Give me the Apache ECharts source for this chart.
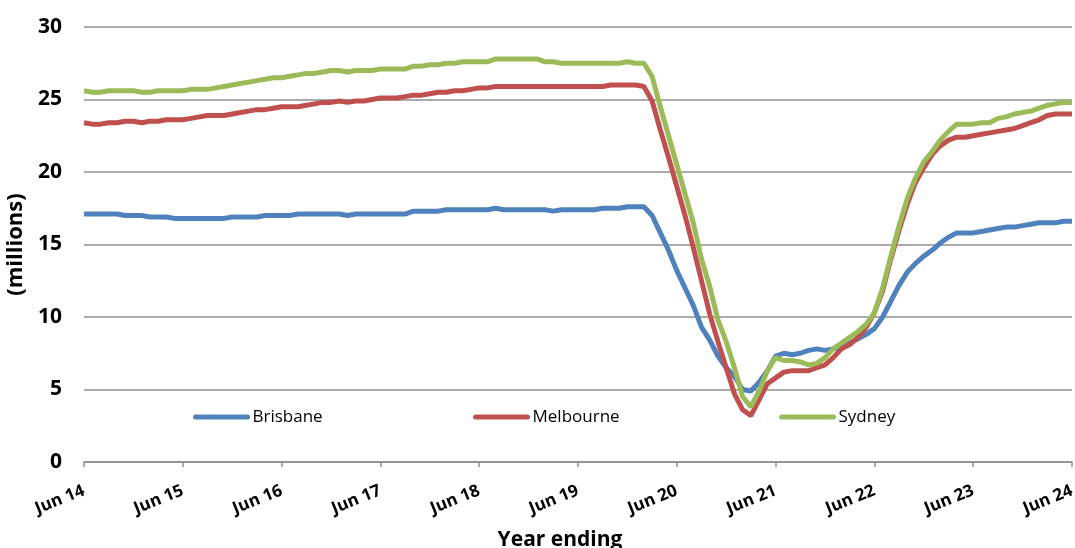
<!DOCTYPE html>
<html>
<head>
<meta charset="utf-8">
<script src="https://cdn.jsdelivr.net/npm/echarts@6/dist/echarts.min.js"></script>
<style>
html,body{margin:0;padding:0;background:#fff;}
#chart{width:1075px;height:548px;}
</style>
</head>
<body>
<div id="chart"></div>
<script>
// ---- data (monthly, year ending Jun 2014 .. Jun 2024) ----
var monthNames = ['Jun','Jul','Aug','Sep','Oct','Nov','Dec','Jan','Feb','Mar','Apr','May'];
var tickLabels = ['Jun 14','Jun 15','Jun 16','Jun 17','Jun 18','Jun 19','Jun 20','Jun 21','Jun 22','Jun 23','Jun 24'];
var seriesNames = ['Brisbane','Melbourne','Sydney'];

var brisbane = [
  17.1,17.1,17.1,17.1,17.1,17.0,17.0,17.0,16.9,16.9,16.9,16.8,
  16.8,16.8,16.8,16.8,16.8,16.8,16.9,16.9,16.9,16.9,17.0,17.0,
  17.0,17.0,17.1,17.1,17.1,17.1,17.1,17.1,17.0,17.1,17.1,17.1,
  17.1,17.1,17.1,17.1,17.3,17.3,17.3,17.3,17.4,17.4,17.4,17.4,
  17.4,17.4,17.5,17.4,17.4,17.4,17.4,17.4,17.4,17.3,17.4,17.4,
  17.4,17.4,17.4,17.5,17.5,17.5,17.6,17.6,17.6,17.0,15.8,14.6,
  13.2,12.0,10.8,9.3,8.4,7.3,6.5,5.9,5.0,4.9,5.5,6.3,
  7.3,7.5,7.4,7.5,7.7,7.8,7.7,7.8,7.9,8.2,8.5,8.8,
  9.2,10.0,11.1,12.2,13.1,13.7,14.2,14.6,15.1,15.5,15.8,15.8,
  15.8,15.9,16.0,16.1,16.2,16.2,16.3,16.4,16.5,16.5,16.5,16.6,
  16.6
];
var melbourne = [
  23.4,23.3,23.3,23.4,23.4,23.5,23.5,23.4,23.5,23.5,23.6,23.6,
  23.6,23.7,23.8,23.9,23.9,23.9,24.0,24.1,24.2,24.3,24.3,24.4,
  24.5,24.5,24.5,24.6,24.7,24.8,24.8,24.9,24.8,24.9,24.9,25.0,
  25.1,25.1,25.1,25.2,25.3,25.3,25.4,25.5,25.5,25.6,25.6,25.7,
  25.8,25.8,25.9,25.9,25.9,25.9,25.9,25.9,25.9,25.9,25.9,25.9,
  25.9,25.9,25.9,25.9,26.0,26.0,26.0,26.0,25.9,24.9,22.9,21.0,
  19.0,17.0,14.8,12.5,10.2,8.3,6.5,4.7,3.6,3.2,4.3,5.4,
  5.8,6.2,6.3,6.3,6.3,6.5,6.7,7.2,7.8,8.1,8.6,9.3,
  10.3,11.8,14.0,16.0,17.8,19.3,20.3,21.2,21.8,22.2,22.4,22.4,
  22.5,22.6,22.7,22.8,22.9,23.0,23.2,23.4,23.6,23.9,24.0,24.0,
  24.0
];
var sydney = [
  25.6,25.5,25.5,25.6,25.6,25.6,25.6,25.5,25.5,25.6,25.6,25.6,
  25.6,25.7,25.7,25.7,25.8,25.9,26.0,26.1,26.2,26.3,26.4,26.5,
  26.5,26.6,26.7,26.8,26.8,26.9,27.0,27.0,26.9,27.0,27.0,27.0,
  27.1,27.1,27.1,27.1,27.3,27.3,27.4,27.4,27.5,27.5,27.6,27.6,
  27.6,27.6,27.8,27.8,27.8,27.8,27.8,27.8,27.6,27.6,27.5,27.5,
  27.5,27.5,27.5,27.5,27.5,27.5,27.6,27.5,27.5,26.6,24.5,22.5,
  20.5,18.5,16.5,14.0,12.1,9.8,8.3,6.5,4.5,3.8,4.9,6.3,
  7.2,7.0,7.0,6.9,6.7,6.8,7.2,7.8,8.2,8.6,9.0,9.5,
  10.3,12.0,14.2,16.3,18.2,19.6,20.7,21.4,22.2,22.8,23.3,23.3,
  23.3,23.4,23.4,23.7,23.8,24.0,24.1,24.2,24.4,24.6,24.7,24.8,
  24.8
];
var colors = ['#4F81BD','#C0504D','#9BBB59'];

// category labels: one per month, tick labels every 12th month
var categories = [];
for (var y = 0; y < tickLabels.length - 1; y++) {
  for (var m = 0; m < 12; m++) {
    categories.push(m === 0 ? tickLabels[y] : monthNames[m] + ' ' + tickLabels[y].slice(4));
  }
}
categories.push(tickLabels[tickLabels.length - 1]);

var chart = echarts.init(document.getElementById('chart'), null, {renderer: 'canvas'});
var fontFam = '"Open Sans", sans-serif';
var seriesData = [brisbane, melbourne, sydney];
var legendLefts = [193, 473, 779];

var option = {
  animation: false,
  backgroundColor: '#fff',
  color: colors,
  textStyle: {fontFamily: fontFam},
  title: {
    text: 'Year ending',
    left: 555,
    textAlign: 'center',
    top: 525,
    textStyle: {fontSize: 21, fontWeight: 'bold', color: '#000', fontFamily: fontFam}
  },
  grid: {left: 84, right: 3, top: 27, bottom: 86, containLabel: false, outerBoundsMode: 'none'},
  legend: seriesNames.map(function (n, k) {
    return {
      data: [n],
      left: legendLefts[k],
      top: 406,
      padding: 0,
      itemWidth: 52,
      itemHeight: 14,
      itemGap: 5,
      lineStyle: {width: 5, cap: 'round'},
      itemStyle: {opacity: 0},
      textStyle: {fontSize: 17, lineHeight: 22, color: '#000', fontFamily: fontFam},
      selectedMode: false
    };
  }),
  xAxis: {
    type: 'category',
    data: categories,
    boundaryGap: false,
    axisLine: {show: true, lineStyle: {color: '#8f8f8f', width: 1.5}},
    axisTick: {show: true, interval: 11, length: 5, lineStyle: {color: '#8f8f8f', width: 1.5}},
    axisLabel: {
      interval: 11,
      rotate: 22,
      margin: 28,
      fontSize: 17,
      fontWeight: 'bold',
      color: '#000',
      fontFamily: fontFam
    },
    splitLine: {show: false}
  },
  yAxis: {
    type: 'value',
    min: 0,
    max: 30,
    interval: 5,
    name: '(millions)',
    nameLocation: 'middle',
    nameGap: 49,
    nameRotate: 90,
    nameTextStyle: {fontSize: 22, fontWeight: 'bold', color: '#000', fontFamily: fontFam},
    axisLine: {show: false},
    axisTick: {show: false},
    axisLabel: {fontSize: 21, fontWeight: 'bold', color: '#000', margin: 22, fontFamily: fontFam},
    splitLine: {show: true, lineStyle: {color: '#8f8f8f', width: 1.5}}
  },
  series: seriesNames.map(function (n, k) {
    return {
      name: n,
      type: 'line',
      data: seriesData[k],
      symbol: 'none',
      smooth: false,
      lineStyle: {width: 5, color: colors[k]},
      itemStyle: {color: colors[k]},
      z: 3 + k
    };
  })
};
chart.setOption(option);
</script>
</body>
</html>
